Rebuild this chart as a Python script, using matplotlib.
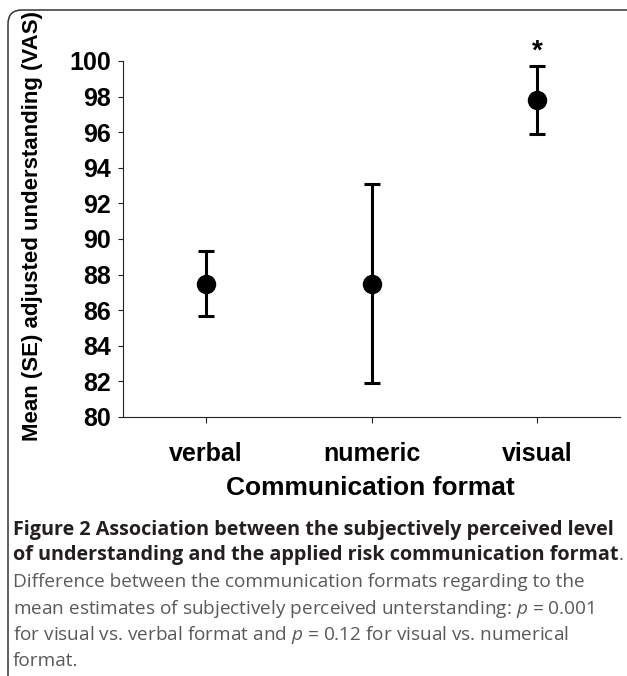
import numpy as np
import matplotlib.pyplot as plt
from matplotlib.patches import FancyBboxPatch
from matplotlib.transforms import IdentityTransform

formats = ["verbal", "numeric", "visual"]
means = [87.5, 87.5, 97.8]
lower = [85.7, 81.9, 95.9]
upper = [89.3, 93.1, 99.7]
yticks = [80, 82, 84, 86, 88, 90, 92, 94, 96, 98, 100]

plt.rcParams['font.family'] = ['Liberation Sans', 'DejaVu Sans']
plt.rcParams['mathtext.fontset'] = 'custom'
plt.rcParams['mathtext.rm'] = 'Open Sans'
plt.rcParams['mathtext.it'] = 'Open Sans:italic'

W, H = 627, 676
fig = plt.figure(figsize=(W / 100, H / 100), dpi=100)
ax = fig.add_axes([123 / W, 1 - 417 / H, (620 - 123) / W, (417 - 61) / H])

xpos = np.arange(len(formats)) + 0.5
m = np.array(means)
err = np.array([m - np.array(lower), np.array(upper) - m])
ax.errorbar(xpos, m, yerr=err, fmt='o', color='black', ms=13,
            elinewidth=2.2, capsize=6, capthick=2.2, clip_on=False, zorder=3)
# significance star above visual
ax.text(xpos[2], upper[2] + 0.1, "*", ha='center', va='bottom',
        fontsize=20, fontweight='bold', clip_on=False)

ax.set_xlim(0, 3)
ax.set_ylim(80, 100)
ax.set_yticks(yticks)
ax.set_xticks(xpos)
ax.set_xticklabels(formats)
for s in ['top', 'right']:
    ax.spines[s].set_visible(False)
for s in ['left', 'bottom']:
    ax.spines[s].set_linewidth(0.8)
    ax.spines[s].set_color('#222222')
ax.tick_params(axis='y', length=3.5, width=0.8, pad=5, labelsize=18, color='#222222')
ax.tick_params(axis='x', length=4, width=0.8, pad=14, labelsize=18, color='#222222')
for lab in ax.get_xticklabels() + ax.get_yticklabels():
    lab.set_fontweight('bold')

fig.text(33 / W, 1 - 226 / H, "Mean (SE) adjusted understanding (VAS)", rotation=90,
         ha='center', va='center', fontsize=16, fontweight='bold')
fig.text(370 / W, 1 - 488 / H, "Communication format", ha='center', va='center',
         fontsize=19, fontweight='bold')

# caption
dark = '#231f20'
grey = '#58595b'
cx = 13 / W
cap_font = ['Open Sans', 'DejaVu Sans']
fig.text(cx, 1 - 530 / H, "Figure 2 Association between the subjectively perceived level",
         ha='left', va='center', fontsize=14.2, fontweight='bold', color=dark, family=cap_font)
t2 = fig.text(cx, 1 - 555 / H, "of understanding and the applied risk communication format",
              ha='left', va='center', fontsize=14.2, fontweight='bold', color=dark, family=cap_font)
rest = ["Difference between the communication formats regarding to the",
        "mean estimates of subjectively perceived unterstanding: $p$ = 0.001",
        "for visual vs. verbal format and $p$ = 0.12 for visual vs. numerical",
        "format."]
for i, line in enumerate(rest):
    fig.text(cx, 1 - (582 + 26.5 * i) / H, line, ha='left', va='center',
             fontsize=13.7, color=grey, family=cap_font)

fig.canvas.draw()
bb = t2.get_window_extent()
fig.text(bb.x1 / W, 1 - 555 / H, ".", ha='left', va='center', fontsize=13.7,
         color=grey, family=cap_font)

# rounded frame around the figure
frame = FancyBboxPatch((8, -60), 800, H - 10 + 60, boxstyle="round,pad=0,rounding_size=14",
                       transform=IdentityTransform(), fill=False, ec='#333333', lw=1.1)
fig.patches.append(frame)

fig.savefig("out.png", dpi=100)
